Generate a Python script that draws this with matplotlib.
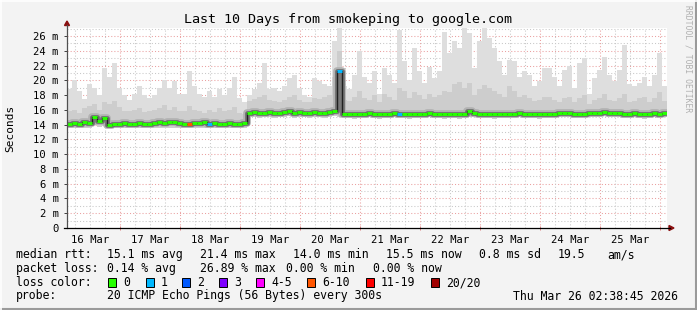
import matplotlib
matplotlib.use("Agg")
import matplotlib.pyplot as plt
from matplotlib.lines import Line2D
from matplotlib.patches import Polygon, Rectangle
import numpy as np
from datetime import datetime, timedelta

# ---- data (2 hour bins, 10 days) ----
end_time = datetime(2026, 3, 26, 2, 38, 45)
bin_hours = 2

smoke_max = [18.8, 20.0, 18.5, 17.5, 19.5, 19.0, 18.0, 21.7, 20.5, 22.3, 19.0, 18.0,
             17.3, 18.2, 19.2, 18.0, 17.6, 18.0, 19.0, 20.1, 19.0, 19.9, 18.2, 18.2,
             21.2, 19.2, 18.2, 17.8, 18.5, 17.8, 18.8, 18.0, 19.0, 20.5, 17.6, 17.1,
             18.0, 18.8, 19.7, 22.3, 18.8, 19.0, 18.5, 19.2, 20.3, 20.7, 19.0, 18.0,
             17.8, 20.3, 19.9, 19.5, 19.2, 25.3, 27.1, 19.2, 18.8, 20.7, 23.9, 20.5,
             19.7, 21.2, 18.2, 21.7, 20.7, 19.7, 26.8, 22.6, 20.1, 24.4, 21.2, 19.7,
             21.8, 20.3, 21.2, 26.5, 23.7, 25.3, 24.4, 27.1, 26.4, 21.7, 25.3, 27.1,
             25.7, 24.4, 22.6, 20.7, 22.8, 22.6, 20.5, 21.2, 20.7, 19.2, 19.9, 21.7,
             21.7, 20.5, 19.2, 21.4, 22.0, 19.0, 22.3, 23.0, 18.2, 20.3, 21.4, 23.2,
             20.7, 19.9, 21.4, 24.8, 19.5, 19.2, 19.7, 20.5, 19.2, 20.7, 23.7, 19.2]

smoke_p75 = [15.8, 16.0, 15.6, 16.2, 16.5, 16.8, 16.0, 17.0, 16.8, 17.2, 16.4, 15.9,
             15.8, 16.0, 16.3, 15.7, 15.8, 16.0, 16.2, 16.6, 16.0, 16.4, 15.9, 15.8,
             16.5, 16.0, 15.8, 15.6, 16.0, 15.7, 16.2, 15.8, 16.0, 16.4, 15.6, 15.5,
             17.2, 17.5, 17.8, 18.0, 17.4, 17.2, 17.0, 17.4, 17.8, 18.0, 17.3, 17.0,
             17.0, 17.6, 17.5, 17.8, 18.0, 20.5, 24.0, 17.4, 17.2, 17.8, 18.5, 17.6,
             17.4, 18.0, 17.0, 18.2, 17.8, 17.4, 19.0, 18.6, 17.6, 18.4, 18.0, 17.5,
             18.2, 17.8, 18.0, 18.6, 18.4, 19.5, 19.8, 19.0, 19.6, 18.0, 18.8, 19.4,
             19.0, 18.6, 18.2, 17.8, 19.2, 18.6, 17.8, 18.0, 17.6, 17.2, 17.4, 17.8,
             17.8, 17.4, 17.0, 17.6, 17.8, 17.0, 17.6, 18.0, 16.8, 17.4, 17.6, 18.2,
             17.4, 17.2, 17.6, 18.2, 17.0, 17.2, 17.6, 17.8, 17.0, 17.6, 18.4, 17.2]

median = [14.1, 14.2, 14.1, 14.3, 14.2, 15.0, 14.5, 14.9, 14.0, 14.1, 14.1, 14.2,
          14.1, 14.1, 14.2, 14.1, 14.1, 14.2, 14.3, 14.2, 14.3, 14.3, 14.2, 14.1,
          14.1, 14.2, 14.2, 14.3, 14.1, 14.2, 14.1, 14.1, 14.2, 14.1, 14.1, 14.2,
          15.6, 15.7, 15.6, 15.6, 15.7, 15.6, 15.6, 15.7, 15.8, 15.6, 15.7, 15.6,
          15.6, 15.7, 15.6, 15.6, 15.7, 15.8, 21.2, 15.5, 15.5, 15.4, 15.5, 15.5,
          15.6, 15.5, 15.4, 15.5, 15.5, 15.6, 15.5, 15.5, 15.4, 15.5, 15.5, 15.5,
          15.6, 15.5, 15.5, 15.4, 15.5, 15.5, 15.4, 15.5, 15.9, 15.6, 15.5, 15.5,
          15.5, 15.4, 15.5, 15.5, 15.5, 15.5, 15.6, 15.5, 15.5, 15.5, 15.4, 15.5,
          15.5, 15.5, 15.6, 15.6, 15.6, 15.5, 15.5, 15.5, 15.6, 15.6, 15.6, 15.7,
          15.6, 15.6, 15.6, 15.5, 15.5, 15.6, 15.5, 15.4, 15.5, 15.6, 15.5, 15.6]

smoke_min = [13.5, 13.6, 13.5, 13.6, 13.5, 13.9, 13.7, 13.8, 13.5, 13.5, 13.6, 13.5,
             13.5, 13.6, 13.5, 13.5, 13.6, 13.5, 13.6, 13.6, 13.5, 13.6, 13.5, 13.5,
             13.5, 13.6, 13.5, 13.6, 13.5, 13.5, 13.6, 13.5, 13.5, 13.6, 13.5, 13.5,
             15.0, 15.0, 14.9, 15.0, 15.0, 14.9, 15.0, 15.0, 15.1, 14.9, 15.0, 15.0,
             14.9, 15.0, 15.0, 14.9, 15.0, 15.1, 15.0, 14.9, 14.9, 14.8, 14.9, 14.9,
             15.0, 14.9, 14.8, 14.9, 14.9, 15.0, 14.9, 14.9, 14.8, 14.9, 14.9, 14.9,
             15.0, 14.9, 14.9, 14.8, 14.9, 14.9, 14.8, 14.9, 15.0, 15.0, 14.9, 14.9,
             14.9, 14.8, 14.9, 14.9, 14.9, 14.9, 15.0, 14.9, 14.9, 14.9, 14.8, 14.9,
             14.9, 14.9, 15.0, 15.0, 15.0, 14.9, 14.9, 14.9, 15.0, 15.0, 15.0, 15.1,
             15.0, 15.0, 15.0, 14.9, 14.9, 15.0, 14.9, 14.8, 14.9, 15.0, 14.9, 15.0]

# bins with packet loss (index, lost pings)
loss_bins = [24, 28, 54, 66]
loss_vals = [8, 1, 1, 1]

loss_labels = ["0", "1", "2", "3", "4-5", "6-10", "11-19", "20/20"]
loss_upper = [0, 1, 2, 3, 5, 10, 19, 20]
loss_colors = ["#26ff00", "#00b8ff", "#0059ff", "#7e00ff", "#ff00ff", "#ff5500", "#ff0000", "#a10000"]

y_ticks = list(range(0, 27, 2))

# ---- figure ----
W, H = 697, 310
fig = plt.figure(figsize=(W / 100, H / 100), dpi=100, facecolor="#f3f3f3")
mono = "DejaVu Sans Mono"


def fx(px):
    return px / W


def fy(py):
    return 1 - py / H


ax = fig.add_axes([fx(67), fy(228), 600 / W, 200 / H])
ax.set_facecolor("white")
ymax = 200 / 7.385
ax.set_xlim(0, 240)
ax.set_ylim(0, ymax)

start_time = end_time - timedelta(days=10)


def hours(t):
    return (t - start_time).total_seconds() / 3600


# grid
for v in range(1, 28):
    if v % 2:
        ax.axhline(v, color="#c8c8c8", lw=0.75, ls=(0, (1, 2)), zorder=1)
    else:
        ax.axhline(v, color="#eaa0a0", lw=0.75, ls=(0, (1, 2)), zorder=1)
midnights = []
noons = []
t = datetime(2026, 3, 16, 0)
while t < end_time:
    h = hours(t)
    if h > 0:
        if t.hour == 0:
            midnights.append(h)
            ax.axvline(h, color="#eaa0a0", lw=0.75, ls=(0, (1, 2)), zorder=1)
        else:
            ax.axvline(h, color="#c8c8c8", lw=0.75, ls=(0, (1, 2)), zorder=1)
    if t.hour == 12:
        noons.append((h, t.strftime("%d %b")))
    t += timedelta(hours=6)

# smoke
n = len(median)
edges = np.arange(n + 1) * bin_hours


def ext(a):
    return np.append(a, a[-1])


ax.fill_between(edges, ext(smoke_min), ext(smoke_max), step="post", color="#dedede", lw=0, zorder=2)
ax.fill_between(edges, ext(smoke_min), ext(smoke_p75), step="post", color="#cdcdcd", lw=0, zorder=2)
ax.step(edges, ext(median), where="post", color="#b2b2b2", lw=5.5, zorder=2.5, solid_capstyle="butt")
ax.step(edges, ext(median), where="post", color="#6e6e6e", lw=3.4, zorder=2.6, solid_capstyle="butt")
ax.step(edges, ext(median), where="post", color="#202020", lw=0.9, zorder=3)

# median coloured by loss
for i in range(n):
    lost = 0
    if i in loss_bins:
        lost = loss_vals[loss_bins.index(i)]
    ci = 0
    while loss_upper[ci] < lost:
        ci += 1
    ax.hlines(median[i], edges[i], edges[i + 1], color=loss_colors[ci], lw=2.2, zorder=4)

# axes / ticks
for s in ax.spines.values():
    s.set_visible(False)
ax.set_yticks(y_ticks)
ax.set_yticklabels(["0" if v == 0 else "%d m" % v for v in y_ticks], family=mono, fontsize=7.6)
ax.tick_params(axis="y", length=2, width=0.7, color="#404040", pad=4)
ax.set_xticks([p for p, _ in noons])
ax.set_xticklabels([l for _, l in noons], family=mono, fontsize=7.6)
ax.tick_params(axis="x", length=0, pad=5)
ax.set_xticks(midnights, minor=True)
ax.tick_params(axis="x", which="minor", length=3, width=0.7, color="#e08080", direction="inout")

# axis lines with arrows
fig.add_artist(Line2D([fx(67), fx(67)], [fy(228), fy(25)], color="#505050", lw=0.9))
fig.add_artist(Line2D([fx(64), fx(670)], [fy(228), fy(228)], color="#000000", lw=0.9))
fig.add_artist(Polygon([[fx(64.5), fy(25.5)], [fx(69.5), fy(25.5)], [fx(67), fy(21)]],
                       closed=True, color="#8b1010", transform=fig.transFigure))
fig.add_artist(Polygon([[fx(669), fy(225.5)], [fx(669), fy(230.5)], [fx(674), fy(228)]],
                       closed=True, color="#8b1010", transform=fig.transFigure))

# frame
fig.add_artist(Line2D([0, 1], [fy(309), fy(309)], color="#9a9a9a", lw=1.5))
fig.add_artist(Line2D([fx(696), fx(696)], [0, 1], color="#9a9a9a", lw=1.5))
fig.add_artist(Line2D([0, 1], [fy(0.5), fy(0.5)], color="white", lw=1.2))
fig.add_artist(Line2D([fx(0.5), fx(0.5)], [0, 1], color="white", lw=1.2))

# titles
fig.text(0.5, fy(19), "Last 10 Days from smokeping to google.com", ha="center", va="center",
         family=mono, fontsize=9.6)
fig.text(fx(10), fy(128), "Seconds", rotation=90, ha="center", va="center", family=mono, fontsize=8)
fig.text(fx(688), fy(5), "RRDTOOL / TOBI OETIKER", rotation=-90, ha="center", va="top",
         family=mono, fontsize=5.8, color="#b0b0b0")

# legend
lfs = 8.3
rows = [
    (258, [(16, "median rtt:"), (107, "15.1 ms avg"), (200, "21.4 ms max"), (293, "14.0 ms min"),
           (386, "15.5 ms now"), (479, "0.8 ms sd"), (558, "19.5"), (607, "am/s")]),
    (272, [(16, "packet loss:"), (107, "0.14 % avg"), (200, "26.89 % max"), (286, "0.00 % min"),
           (373, "0.00 % now")]),
    (286, [(16, "loss color:")]),
    (299.5, [(16, "probe:"), (107, "20 ICMP Echo Pings (56 Bytes) every 300s"),
             (513, "Thu Mar 26 02:38:45 2026")]),
]
for yb, items in rows:
    for xp, s in items:
        fig.text(fx(xp), fy(yb), s, ha="left", va="baseline", family=mono, fontsize=lfs)

box_x = [108, 146, 182, 219, 256, 307, 366, 431]
for bx, lab, col in zip(box_x, loss_labels, loss_colors):
    fig.add_artist(Rectangle((fx(bx), fy(286.5)), 7.5 / W, 9 / H, facecolor=col, edgecolor="black",
                             lw=0.7, transform=fig.transFigure))
    fig.text(fx(bx + 15), fy(286), lab, ha="left", va="baseline", family=mono, fontsize=lfs)

fig.savefig("out.png", dpi=100, facecolor=fig.get_facecolor())
